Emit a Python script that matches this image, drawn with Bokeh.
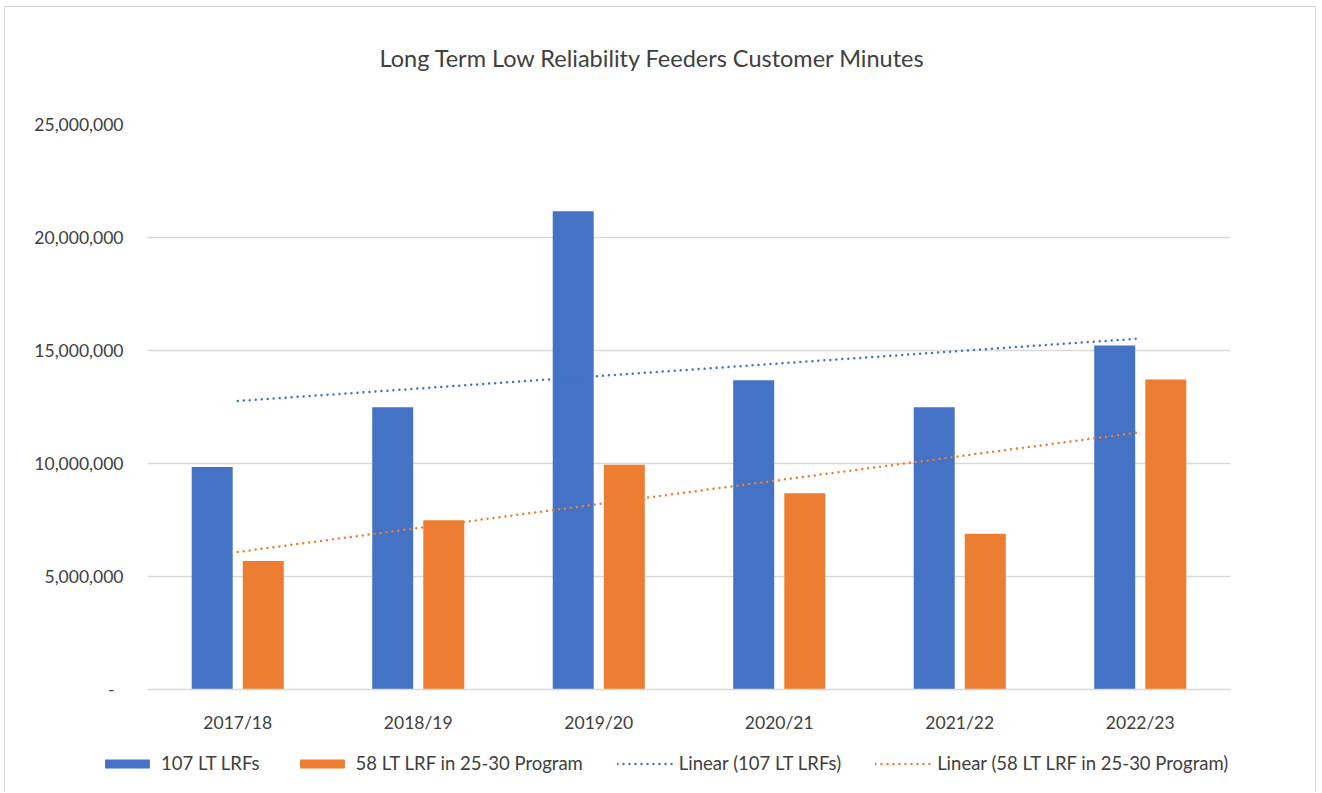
import numpy as np
from bokeh.plotting import figure
from bokeh.models import (ColumnDataSource, FactorRange, Range1d, SingleIntervalTicker,
                          CustomJSTickFormatter, Legend, LegendItem, Title)
from bokeh.transform import dodge
from bokeh.embed import file_html
from bokeh.resources import INLINE

# Customer minutes per financial year
years = ["2017/18", "2018/19", "2019/20", "2020/21", "2021/22", "2022/23"]
lrf_107 = [9_850_000, 12_490_000, 21_160_000, 13_680_000, 12_490_000, 15_220_000]
lrf_58 = [5_690_000, 7_490_000, 9_940_000, 8_680_000, 6_890_000, 13_720_000]

name_107 = "107 LT LRFs"
name_58 = "58 LT LRF in 25-30 Program"
title_text = "Long Term Low Reliability Feeders Customer Minutes"

BLUE = "#4472C4"
ORANGE = "#ED7D31"
GRID = "#D9D9D9"
TEXT = "#404040"
FONT = "Lato"
DOTS = dict(line_width=2.5, line_dash="0 6", line_cap="round")
EDGE = "1px solid #D9D9D9"

# Least-squares linear trend over the year index
idx = np.arange(1, len(years) + 1)
fit_107 = np.polyval(np.polyfit(idx, lrf_107, 1), idx)
fit_58 = np.polyval(np.polyfit(idx, lrf_58, 1), idx)

src = ColumnDataSource(dict(years=years, a=lrf_107, b=lrf_58,
                            ta=fit_107, tb=fit_58))

# ---- main chart -------------------------------------------------------
p = figure(x_range=FactorRange(*years), y_range=Range1d(0, 25_000_000),
           width=1312, height=730, output_backend="svg", toolbar_location=None,
           title=None, min_border_left=142, min_border_right=87,
           min_border_top=117, min_border_bottom=48,
           styles={"margin-left": "4px", "margin-top": "6px",
                   "border-left": EDGE, "border-top": EDGE, "border-right": EDGE})

p.vbar(x=dodge("years", -0.1415, range=p.x_range), top="a", width=0.227,
       source=src, fill_color=BLUE, line_color=None)
p.vbar(x=dodge("years", 0.1415, range=p.x_range), top="b", width=0.227,
       source=src, fill_color=ORANGE, line_color=None)
p.line(x="years", y="ta", source=src, line_color=BLUE, **DOTS)
p.line(x="years", y="tb", source=src, line_color=ORANGE, **DOTS)

# blank band between the title and the plot area, then the title itself
p.add_layout(Title(text=" ", text_font_size="1px", standoff=50), "above")
p.add_layout(Title(text=title_text, align="left", offset=232, standoff=0,
                   text_font=FONT, text_font_size="23.5px",
                   text_font_style="normal", text_color=TEXT), "above")

p.outline_line_color = None
p.xgrid.grid_line_color = None
p.ygrid.grid_line_color = GRID
p.ygrid.grid_line_width = 1.3

p.yaxis.ticker = SingleIntervalTicker(interval=5_000_000, num_minor_ticks=0)
p.yaxis.formatter = CustomJSTickFormatter(
    code="return tick == 0 ? '-\u00a0\u00a0' : tick.toLocaleString('en-US');")
p.yaxis.axis_line_color = None
p.yaxis.major_tick_line_color = None
p.yaxis.minor_tick_line_color = None
p.yaxis.major_label_standoff = 18

p.xaxis.axis_line_color = GRID
p.xaxis.axis_line_width = 1.3
p.xaxis.major_tick_line_color = None
p.xaxis.minor_tick_line_color = None
p.xaxis.major_label_standoff = 16

for ax in (p.xaxis[0], p.yaxis[0]):
    ax.major_label_text_font = FONT
    ax.major_label_text_font_size = "17.5px"
    ax.major_label_text_color = TEXT

# ---- legend strip -----------------------------------------------------
lg = figure(width=1312, height=56, output_backend="svg", toolbar_location=None,
            x_range=Range1d(0, 1), y_range=Range1d(0, 1),
            x_axis_type=None, y_axis_type=None, min_border=0,
            styles={"margin-left": "4px", "border-left": EDGE, "border-right": EDGE})
lg.outline_line_color = None
lg.xgrid.grid_line_color = None
lg.ygrid.grid_line_color = None

# key swatches sit outside the visible range; only the legend shows them
k1 = lg.vbar(x=[-5], top=[-5], width=1, fill_color=BLUE, line_color=None)
k2 = lg.vbar(x=[-5], top=[-5], width=1, fill_color=ORANGE, line_color=None)
k3 = lg.line(x=[-6, -5], y=[-5, -5], line_color=BLUE, **DOTS)
k4 = lg.line(x=[-6, -5], y=[-5, -5], line_color=ORANGE, **DOTS)

legend = Legend(items=[
    LegendItem(label=name_107, renderers=[k1]),
    LegendItem(label=name_58, renderers=[k2]),
    LegendItem(label="Linear (" + name_107 + ")", renderers=[k3]),
    LegendItem(label="Linear (" + name_58 + ")", renderers=[k4]),
], orientation="horizontal", location=(94, 18), glyph_width=56, glyph_height=11,
    label_standoff=6, spacing=34, padding=0, margin=0, border_line_color=None,
    background_fill_alpha=0,
    label_text_font=FONT, label_text_font_size="18.5px", label_text_color=TEXT)
lg.add_layout(legend, "center")

open("out.html", "w").write(file_html([p, lg], INLINE))
